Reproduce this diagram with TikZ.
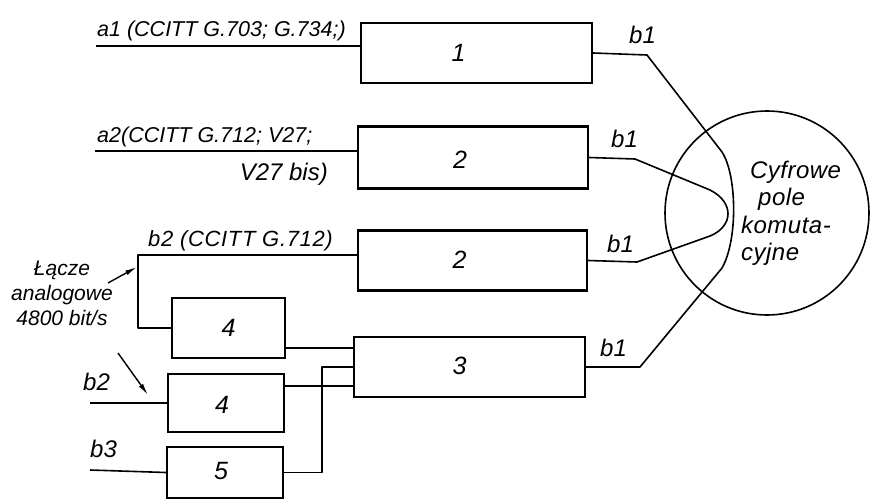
\documentclass[tikz,border=0pt]{standalone}
\usepackage{fontspec}
\setmainfont{Liberation Sans}
\usetikzlibrary{calc,arrows.meta}
\begin{document}
\begin{tikzpicture}[x=1pt,y=-1pt,
  box/.style={draw, line width=2.4pt, inner sep=0pt},
  wire/.style={line width=1.6pt, line join=round},
  lbl/.style={font=\itshape\fontsize{21.5}{25}\selectfont, inner sep=0pt},
  blbl/.style={font=\itshape\fontsize{24}{25}\selectfont, inner sep=0pt},
  ctext/.style={font=\itshape\fontsize{24}{28}\selectfont\addfontfeature{LetterSpace=2}, inner sep=0pt, anchor=base west},
  num/.style={font=\itshape\fontsize{25}{25}\selectfont, inner sep=0pt},
  arr/.style={line width=1.4pt, -{Latex[length=12pt,width=5pt]}}]
\useasboundingbox (0,0) rectangle (873,503);
% boxes
\node[box, minimum width=231pt, minimum height=60pt] (n1) at (476.5,53) {};
\node[box, minimum width=230pt, minimum height=62pt] (n2a) at (473,157.5) {};
\node[box, minimum width=229pt, minimum height=60pt] (n2b) at (472.5,260.5) {};
\node[box, minimum width=231pt, minimum height=60pt] (n3) at (469.5,367) {};
\node[box, minimum width=113pt, minimum height=60pt] (n4a) at (228.5,328) {};
\node[box, minimum width=116pt, minimum height=58pt] (n4b) at (226,403) {};
\node[box, minimum width=116pt, minimum height=51pt] (n5) at (225,472.5) {};
\node[num] (t1) at ($(n1.center)+(-18,0)$) {1};
\node[num] (t2a) at ($(n2a.center)+(-13,2)$) {2};
\node[num] (t2b) at ($(n2b.center)+(-13,-1)$) {2};
\node[num] (t3) at ($(n3.center)+(-10,-1)$) {3};
\node[num] (t4a) at ($(n4a.center)+(0,0)$) {4};
\node[num] (t4b) at ($(n4b.center)+(-4,2)$) {4};
\node[num] (t5) at ($(n5.center)+(-4,-1)$) {5};
% switching field
\node[circle, draw, line width=1.6pt, minimum size=204pt, inner sep=0pt] (cp) at (767,213) {};
\node[ctext] (cpt1) at (750,178) {Cyfrowe};
\node[ctext] (cpt2) at (758,205) {pole};
\node[ctext] (cpt3) at (741,233) {komuta-};
\node[ctext] (cpt4) at (741,260) {cyjne};
% input lines
\coordinate (a1s) at (96,46);
\coordinate (a2s) at (95,151);
\coordinate (k) at (138,255);
\coordinate (b2s) at (90,403);
\coordinate (b3s) at (90,470);
\draw[wire] (a1s) -- (a1s -| n1.west);
\draw[wire] (a2s) -- (a2s -| n2a.west);
\draw[wire] (n2b.west |- k) -- (k) |- (n4a.west);
\draw[wire] (b2s) -- (n4b.west);
\draw[wire] (b3s) -- (n5.west);
% into box 3
\coordinate (p1) at ($(n3.north west)!0.2!(n3.south west)$);
\coordinate (p2) at ($(n3.north west)!0.5!(n3.south west)$);
\coordinate (p3) at ($(n3.north west)!0.8!(n3.south west)$);
\draw[wire] (p1 -| n4a.east) -- (p1);
\draw[wire] (p3 -| n4b.east) -- (p3);
\draw[wire] (n5.east) -- (322,472.5) |- (p2);
% through the switching field
\draw[wire] (n1.east) -- (647,55) -- (722,152) .. controls (737,175) and (738,240) .. (722,268) -- (640,367) -- (n3.east);
\draw[wire] (n2a.east) -- (635,159) -- (710,190) .. controls (734,202) and (734,226) .. (710,236) -- (637,262) -- (n2b.east);
% labels
\node[lbl, anchor=base west] (la1) at (97,37) {a1 (CCITT G.703; G.734;)};
\node[lbl, anchor=base west] (la2) at (97,142) {a2(CCITT G.712; V27;};
\node[blbl, anchor=base east] (la2b) at (328,180) {V27 bis)};
\node[lbl, anchor=base west, font=\itshape\fontsize{22}{25}\selectfont\addfontfeature{LetterSpace=3}] (lb2) at (148,246) {b2 (CCITT G.712)};
\node[blbl, anchor=base west] (lb2l) at (83,390) {b2};
\node[blbl, anchor=base west] (lb3) at (90,457) {b3};
\node[blbl, anchor=base west] (lo1) at (629,44) {b1};
\node[blbl, anchor=base west] (lo2) at (611,147) {b1};
\node[blbl, anchor=base west] (lo3) at (607,252) {b1};
\node[blbl, anchor=base west] (lo4) at (600,356) {b1};
\node[lbl, align=center, anchor=north, font=\itshape\fontsize{21}{25}\selectfont] (lac) at (62,261) {Łącze\\analogowe\\4800 bit/s};
% arrows
\coordinate (ar1s) at (108,283);
\coordinate (ar1e) at (137,267);
\coordinate (ar2s) at (118,353);
\coordinate (ar2e) at (148,395);
\draw[arr] (ar1s) -- (ar1e);
\draw[arr] (ar2s) -- (ar2e);
\end{tikzpicture}
\end{document}
